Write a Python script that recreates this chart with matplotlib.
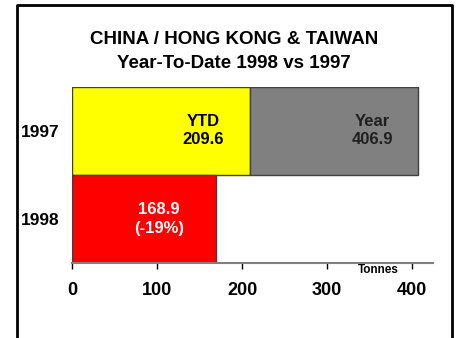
import matplotlib
matplotlib.use("Agg")
from matplotlib import pyplot as plt
from matplotlib.lines import Line2D

plt.rcParams["font.family"] = ["Liberation Sans", "DejaVu Sans"]
plt.rcParams["font.weight"] = "bold"

years = ["1997", "1998"]
ytd = [209.6, 168.9]
full_year = [406.9, None]
change_1998 = "-19%"
xticks = [0, 100, 200, 300, 400]

fig = plt.figure(figsize=(4.58, 3.38), dpi=100)
fig.patch.set_facecolor("white")

# open-bottomed frame round the chart
fig.add_artist(Line2D([17/458, 17/458, 452/458, 452/458],
                      [-0.05, 1 - 5/338, 1 - 5/338, -0.05],
                      transform=fig.transFigure, color="black", lw=2))

ax = fig.add_axes([72/458, 75/338, 361/458, 176/338])

pos = [1, 0]
edge = "#404040"
# 1997: YTD part in yellow, remainder of the year in grey
ax.barh(pos[0], ytd[0], height=1, color="#FFFF00", edgecolor=edge, lw=1)
ax.barh(pos[0], full_year[0] - ytd[0], left=ytd[0], height=1,
        color="#808080", edgecolor=edge, lw=1)
# 1998 YTD
ax.barh(pos[1], ytd[1], height=1, color="#FF0000", edgecolor=edge, lw=1)

ax.text(154, pos[0], "YTD\n%.1f" % ytd[0], ha="center", va="center",
        fontsize=12, fontweight="bold", color="black", linespacing=1.25)
ax.text(353, pos[0], "Year\n%.1f" % full_year[0], ha="center", va="center",
        fontsize=12, fontweight="bold", color="#202020", linespacing=1.25)
ax.text(102, pos[1], "%.1f\n(%s)" % (ytd[1], change_1998), ha="center",
        va="center", fontsize=12, fontweight="bold", color="white",
        linespacing=1.25)
ax.text(360, -0.58, "Tonnes", ha="center", va="center", fontsize=8.5,
        fontweight="bold")

ax.set_xlim(0, 424.7)
ax.set_ylim(-0.5, 1.5)
ax.set_xticks(xticks)
ax.set_xticklabels([str(t) for t in xticks], fontsize=13, fontweight="bold")
ax.set_yticks(pos)
ax.set_yticklabels(years, fontsize=12.5, fontweight="bold")
ax.tick_params(axis="y", length=0, pad=9)
ax.tick_params(axis="x", length=4, width=1, color="black", pad=10)

for s in ["top", "right", "left"]:
    ax.spines[s].set_visible(False)
ax.spines["bottom"].set_color("#808080")
ax.spines["bottom"].set_linewidth(1.5)

fig.text(234/458, 1 - 40/338, "CHINA / HONG KONG & TAIWAN", ha="center",
         va="center", fontsize=13.5, fontweight="bold")
fig.text(234/458, 1 - 64/338, "Year-To-Date 1998 vs 1997", ha="center",
         va="center", fontsize=13.5, fontweight="bold")

plt.savefig("out.png", dpi=100)
plt.close()
